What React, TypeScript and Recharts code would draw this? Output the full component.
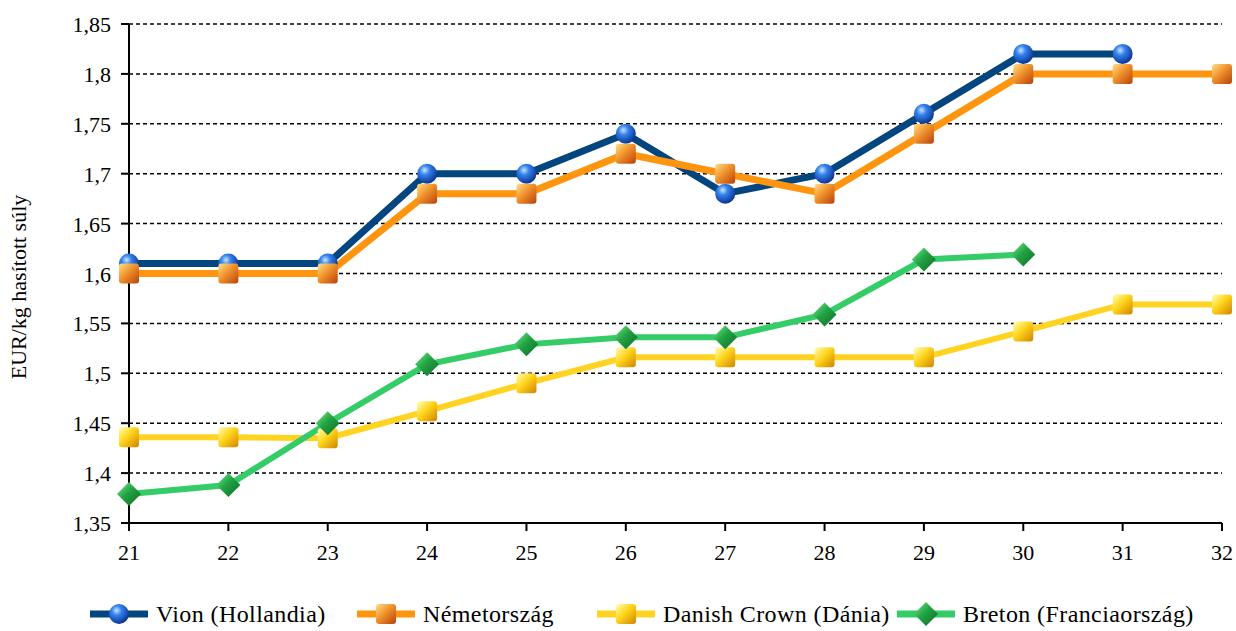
import React from "react"
import { LineChart, Line, XAxis, YAxis, CartesianGrid, Legend } from "recharts"

const weeks = [21, 22, 23, 24, 25, 26, 27, 28, 29, 30, 31, 32]
const vion = [1.61, 1.61, 1.61, 1.7, 1.7, 1.74, 1.68, 1.7, 1.76, 1.82, 1.82, null]
const nemet = [1.6, 1.6, 1.6, 1.68, 1.68, 1.72, 1.7, 1.68, 1.74, 1.8, 1.8, 1.8]
const danish = [1.436, 1.436, 1.435, 1.462, 1.49, 1.516, 1.516, 1.516, 1.516, 1.542, 1.569, 1.569]
const breton = [1.379, 1.388, 1.45, 1.509, 1.529, 1.536, 1.536, 1.559, 1.614, 1.619, null, null]
const yTicks = [1.35, 1.4, 1.45, 1.5, 1.55, 1.6, 1.65, 1.7, 1.75, 1.8, 1.85]

const data = weeks.map((w, i) => ({
  week: w,
  vion: vion[i],
  nemet: nemet[i],
  danish: danish[i],
  breton: breton[i],
}))

const font = "'Liberation Serif', 'Times New Roman', serif"

const Sphere = ({ cx, cy }: { cx: number; cy: number }) => (
  <circle cx={cx} cy={cy} r={10} fill="url(#gBlue)" />
)
const OrangeSq = ({ cx, cy }: { cx: number; cy: number }) => (
  <rect x={cx - 10} y={cy - 10} width={20} height={20} rx={3} fill="url(#gOrange)" />
)
const YellowSq = ({ cx, cy }: { cx: number; cy: number }) => (
  <rect x={cx - 10} y={cy - 10} width={20} height={20} rx={3} fill="url(#gYellow)" />
)
const Diamond = ({ cx, cy }: { cx: number; cy: number }) => (
  <polygon
    points={`${cx},${cy - 12} ${cx + 12},${cy} ${cx},${cy + 12} ${cx - 12},${cy}`}
    fill="url(#gGreen)"
  />
)

// itemWidth: legend slot width (styling only)
const series = [
  { key: "vion", name: "Vion (Hollandia)", color: "#03467f", width: 7, Marker: Sphere, itemWidth: 267 },
  { key: "nemet", name: "Németország", color: "#ff950e", width: 7, Marker: OrangeSq, itemWidth: 240 },
  { key: "danish", name: "Danish Crown (Dánia)", color: "#ffd320", width: 6, Marker: YellowSq, itemWidth: 300 },
  { key: "breton", name: "Breton (Franciaország)", color: "#33cc66", width: 6, Marker: Diamond, itemWidth: 320 },
]

const Defs = () => (
  <defs>
    <radialGradient id="gBlue" cx="38%" cy="32%" r="70%">
      <stop offset="0%" stopColor="#c6e6ff" />
      <stop offset="35%" stopColor="#3582ee" />
      <stop offset="100%" stopColor="#08338f" />
    </radialGradient>
    <linearGradient id="gOrange" x1="0" y1="0" x2="1" y2="1">
      <stop offset="0%" stopColor="#ffe08a" />
      <stop offset="45%" stopColor="#f0922c" />
      <stop offset="100%" stopColor="#b8400a" />
    </linearGradient>
    <linearGradient id="gYellow" x1="0" y1="0" x2="1" y2="1">
      <stop offset="0%" stopColor="#ffffb8" />
      <stop offset="45%" stopColor="#ffd41a" />
      <stop offset="100%" stopColor="#d08400" />
    </linearGradient>
    <linearGradient id="gGreen" x1="0" y1="0" x2="1" y2="1">
      <stop offset="0%" stopColor="#7bea8f" />
      <stop offset="45%" stopColor="#22a444" />
      <stop offset="100%" stopColor="#0d6a24" />
    </linearGradient>
  </defs>
)

const textStyle = { fontFamily: font, fontSize: 22, fill: "#000" }

const YLabel = () => (
  <text transform="translate(26,287) rotate(-90)" textAnchor="middle" style={textStyle}>
    EUR/kg hasított súly
  </text>
)

const XTick = ({ x, y, payload }: any) => (
  <text x={x} y={y + 25} textAnchor="middle" style={textStyle}>
    {payload.value}
  </text>
)

const YTick = ({ x, y, payload }: any) => (
  <text x={x} y={y + 8} textAnchor="end" style={textStyle}>
    {String(payload.value).replace(".", ",")}
  </text>
)

const LegendContent = () => (
  <div style={{ display: "flex", alignItems: "center", height: 30, color: "#000", paddingLeft: 90 }}>
    {series.map((s) => (
      <div key={s.key} style={{ display: "flex", alignItems: "center", width: s.itemWidth, flexShrink: 0 }}>
        <svg width={58} height={24} style={{ marginRight: 8, flexShrink: 0 }}>
          <line x1={0} y1={12} x2={58} y2={12} stroke={s.color} strokeWidth={7} />
          <s.Marker cx={29} cy={12} />
        </svg>
        <span style={{ fontFamily: font, fontSize: 24, letterSpacing: 0.4, whiteSpace: "nowrap" }}>{s.name}</span>
      </div>
    ))}
  </div>
)

export default function App() {
  return (
    <div style={{ position: "absolute", left: 0, top: 0, width: 1236, height: 631, background: "#fff" }}>
      <svg width={0} height={0} style={{ position: "absolute" }}>
        <Defs />
      </svg>
      <LineChart width={1236} height={631} data={data} margin={{ top: 24, right: 14, left: 0, bottom: 38 }}>
        <CartesianGrid vertical={false} stroke="#000" strokeWidth={1.5} strokeDasharray="4 3" />
        <XAxis
          dataKey="week"
          height={40}
          tick={<XTick />}
          tickSize={8}
          tickMargin={4}
          axisLine={{ stroke: "#000", strokeWidth: 2 }}
          tickLine={{ stroke: "#000", strokeWidth: 2 }}
        />
        <YAxis
          width={129}
          domain={[1.35, 1.85]}
          ticks={yTicks}
          tick={<YTick />}
          tickSize={8}
          tickMargin={10}
          axisLine={{ stroke: "#000", strokeWidth: 2 }}
          tickLine={{ stroke: "#000", strokeWidth: 2 }}
          label={<YLabel />}
        />
        <Legend
          verticalAlign="bottom"
          content={<LegendContent />}
          wrapperStyle={{ bottom: 2, left: 0, width: 1236 }}
        />
        {series.map((s) => (
          <Line
            key={s.key}
            dataKey={s.key}
            name={s.name}
            stroke={s.color}
            strokeWidth={s.width}
            isAnimationActive={false}
            dot={(p: any) =>
              p.cx == null || p.cy == null || p.value == null ? (
                <g key={`${s.key}-${p.index}`} />
              ) : (
                <s.Marker key={`${s.key}-${p.index}`} cx={p.cx} cy={p.cy} />
              )
            }
            activeDot={false}
          />
        ))}
      </LineChart>
    </div>
  )
}
